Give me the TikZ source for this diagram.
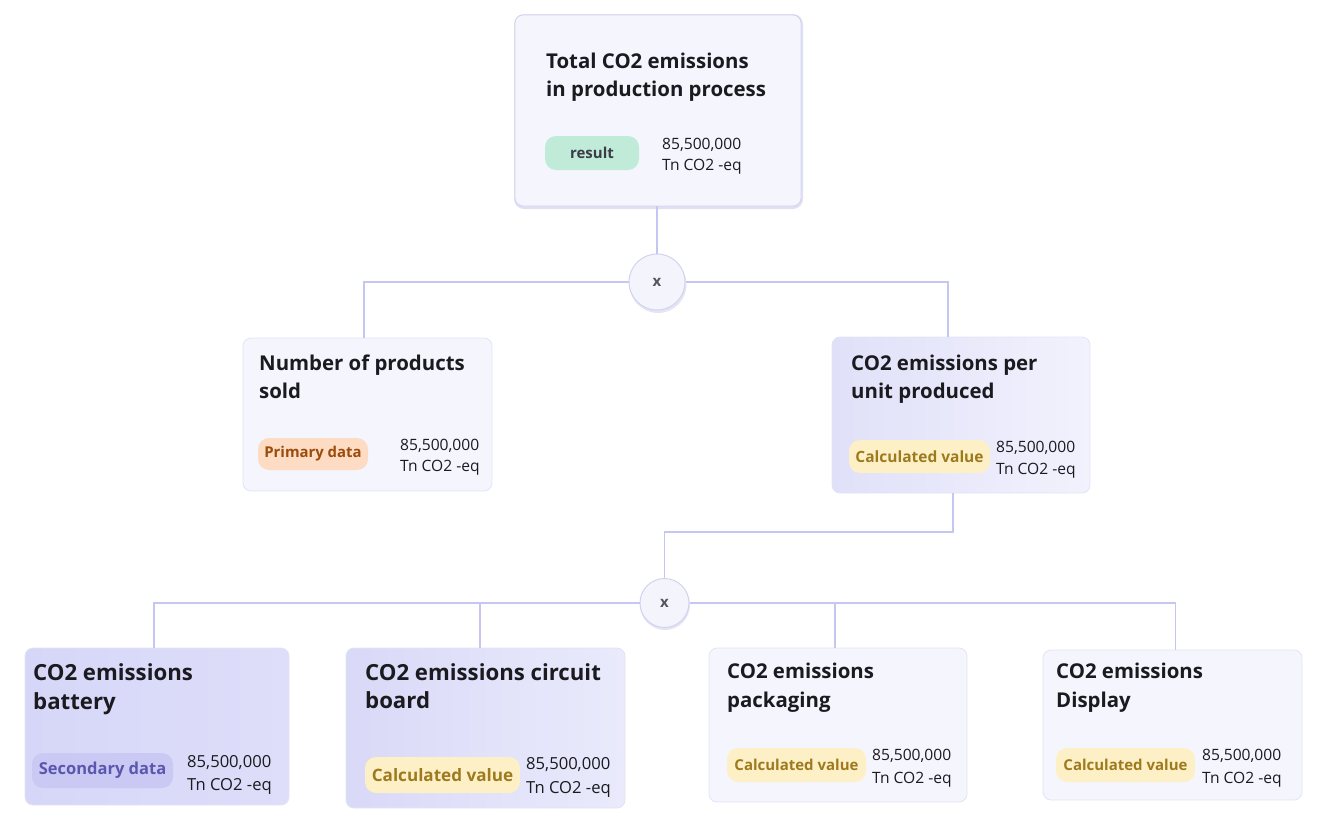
\documentclass[tikz,border=0pt]{standalone}
\usepackage{fontspec}
\setmainfont{Open Sans}
\usetikzlibrary{positioning}
\definecolor{conn}{HTML}{C6C6F3}
\definecolor{bord}{HTML}{E3E3F7}
\definecolor{lightbox}{HTML}{F5F5FD}
\definecolor{ink}{HTML}{1A1A1F}
\definecolor{resfill}{HTML}{BFEBD8}
\definecolor{restext}{HTML}{3C3C46}
\definecolor{primfill}{HTML}{FDDCC3}
\definecolor{primtext}{HTML}{9B4B0B}
\definecolor{calcfill}{HTML}{FEF0C6}
\definecolor{calctext}{HTML}{9E7A1E}
\definecolor{secfill}{HTML}{C9C9F4}
\definecolor{sectext}{HTML}{5B56AE}
\definecolor{opfill}{HTML}{F4F4FC}
\definecolor{opdraw}{HTML}{D3D3EF}
\definecolor{optext}{HTML}{55555F}
\definecolor{unitL}{HTML}{E0E0F9}
\definecolor{unitR}{HTML}{F2F2FD}
\definecolor{batL}{HTML}{D6D6F8}
\definecolor{batR}{HTML}{DEDEFA}
\definecolor{cirL}{HTML}{D9D9F8}
\definecolor{cirR}{HTML}{EAEAFC}
\tikzset{
  x=1pt, y=-1pt,
  card/.style={rectangle, rounded corners=8pt, draw=bord, line width=0.8pt, inner sep=0pt},
  titleline/.style={anchor=base west, inner sep=0pt, text=ink, font=\bfseries\fontsize{20.4}{24}\selectfont},
  bigtitle/.style={anchor=base west, inner sep=0pt, text=ink, font=\bfseries\fontsize{22.2}{26}\selectfont},
  valline/.style={anchor=base west, inner sep=0pt, text=ink, font=\fontsize{15.6}{18}\selectfont},
  bigval/.style={anchor=base west, inner sep=0pt, text=ink, font=\fontsize{16.6}{19}\selectfont},
  pill/.style={rectangle, rounded corners=11pt, inner sep=0pt, font=\bfseries\fontsize{15}{18}\selectfont},
  opnode/.style={circle, fill=opfill, draw=opdraw, line width=1pt, inner sep=0pt, text=optext, font=\bfseries\fontsize{15}{18}\selectfont},
  link/.style={draw=conn, line width=1.8pt},
}
\begin{document}
\begin{tikzpicture}
\useasboundingbox (0,0) rectangle (1320,830);

% ---------- cards ----------
\fill[opdraw!70] (514,14) [rounded corners=10pt] rectangle (803,209);
\node[card, fill=lightbox, draw=opdraw, minimum width=286pt, minimum height=191pt] (top) at (658,110.5) {};
\node[card, fill=lightbox, minimum width=249pt, minimum height=153pt] (num) at (367.5,414.5) {};
\node[card, left color=unitL, right color=unitR, minimum width=258pt, minimum height=156pt] (unit) at (961,415) {};
\node[card, left color=batL, right color=batR, minimum width=264pt, minimum height=157pt] (bat) at (157,726.5) {};
\node[card, left color=cirL, right color=cirR, minimum width=279pt, minimum height=160pt] (cir) at (485.5,728) {};
\node[card, fill=lightbox, minimum width=258pt, minimum height=154pt] (pack) at (838,725) {};
\node[card, fill=lightbox, minimum width=259pt, minimum height=150pt] (disp) at (1172.5,725) {};

% ---------- operators ----------
\fill[opdraw!60] (658,284.5) circle (28.5);
\node[opnode, minimum size=56pt] (op1) at (657,282) {x};
\fill[opdraw!60] (665,605) circle (25);
\node[opnode, minimum size=49pt] (op2) at (664.5,603) {x};

% ---------- connectors ----------
\draw[link] (top.south -| op1) -- (op1.north);
\draw[link] (op1.west) -- (364,282) -- (num.north -| 364,0);
\draw[link] (op1.east) -- (948,282) -- (unit.north -| 948,0);
\coordinate (bend1) at (953,532);
\coordinate (bend2) at (664.5,532);
\draw[link] (unit.south -| bend1) -- (bend1) -- (bend2) -- (op2.north);
\draw[link] (op2.west) -- (154,603) -- (bat.north -| 154,0);
\draw[link] (480,603) -- (cir.north -| 480,0);
\draw[link] (op2.east) -- (1175.5,603) -- (disp.north -| 1175.5,0);
\draw[link] (835,603) -- (pack.north -| 835,0);

% ---------- top card ----------
\node[titleline] (t1) at (546,68) {Total CO2 emissions};
\node[titleline] (t2) at (546,96) {in production process};
\node[pill, fill=resfill, text=restext, minimum width=94pt, minimum height=34pt] (p1) at (592,153) {result};
\node[valline] (v1a) at (662,149) {85,500,000};
\node[valline] (v1b) at (662,170) {Tn CO2 -eq};

% ---------- number of products ----------
\node[titleline] (n1) at (259,370) {Number of products};
\node[titleline] (n2) at (259,398) {sold};
\node[pill, fill=primfill, text=primtext, minimum width=110pt, minimum height=32pt, font=\bfseries\fontsize{14.9}{17}\selectfont] (p2) at (313,454) {Primary data};
\node[valline] (v2a) at (400,450) {85,500,000};
\node[valline] (v2b) at (400,471) {Tn CO2 -eq};

% ---------- per unit ----------
\node[titleline] (u1) at (851,370) {CO2 emissions per};
\node[titleline] (u2) at (851,398) {unit produced};
\node[pill, fill=calcfill, text=calctext, minimum width=141pt, minimum height=33pt, font=\bfseries\fontsize{15.5}{18}\selectfont] (p3) at (919.5,456.5) {Calculated value};
\node[valline] (v3a) at (996,452) {85,500,000};
\node[valline] (v3b) at (996,474) {Tn CO2 -eq};

% ---------- battery ----------
\node[bigtitle] (b1) at (33,680) {CO2 emissions};
\node[bigtitle] (b2) at (33,709) {battery};
\node[pill, fill=secfill, text=sectext, minimum width=141pt, minimum height=35pt, font=\bfseries\fontsize{16.5}{19}\selectfont] (p4) at (102.5,770.5) {Secondary data};
\node[bigval] (v4a) at (187,767) {85,500,000};
\node[bigval] (v4b) at (187,790) {Tn CO2 -eq};

% ---------- circuit board ----------
\node[bigtitle] (c1) at (365,680) {CO2 emissions circuit};
\node[bigtitle] (c2) at (365,708) {board};
\node[pill, fill=calcfill, text=calctext, minimum width=155pt, minimum height=36pt, font=\bfseries\fontsize{17.1}{20}\selectfont] (p5) at (442.5,775) {Calculated value};
\node[bigval] (v5a) at (526,769) {85,500,000};
\node[bigval] (v5b) at (526,793) {Tn CO2 -eq};

% ---------- packaging ----------
\node[titleline] (k1) at (727,678) {CO2 emissions};
\node[titleline] (k2) at (727,707) {packaging};
\node[pill, fill=calcfill, text=calctext, minimum width=139pt, minimum height=34pt] (p6) at (796.5,765) {Calculated value};
\node[valline] (v6a) at (872,760) {85,500,000};
\node[valline] (v6b) at (872,783) {Tn CO2 -eq};

% ---------- display ----------
\node[titleline] (d1) at (1056,678) {CO2 emissions};
\node[titleline] (d2) at (1056,707) {Display};
\node[pill, fill=calcfill, text=calctext, minimum width=139pt, minimum height=34pt] (p7) at (1125.5,765) {Calculated value};
\node[valline] (v7a) at (1202,760) {85,500,000};
\node[valline] (v7b) at (1202,783) {Tn CO2 -eq};
\end{tikzpicture}
\end{document}
